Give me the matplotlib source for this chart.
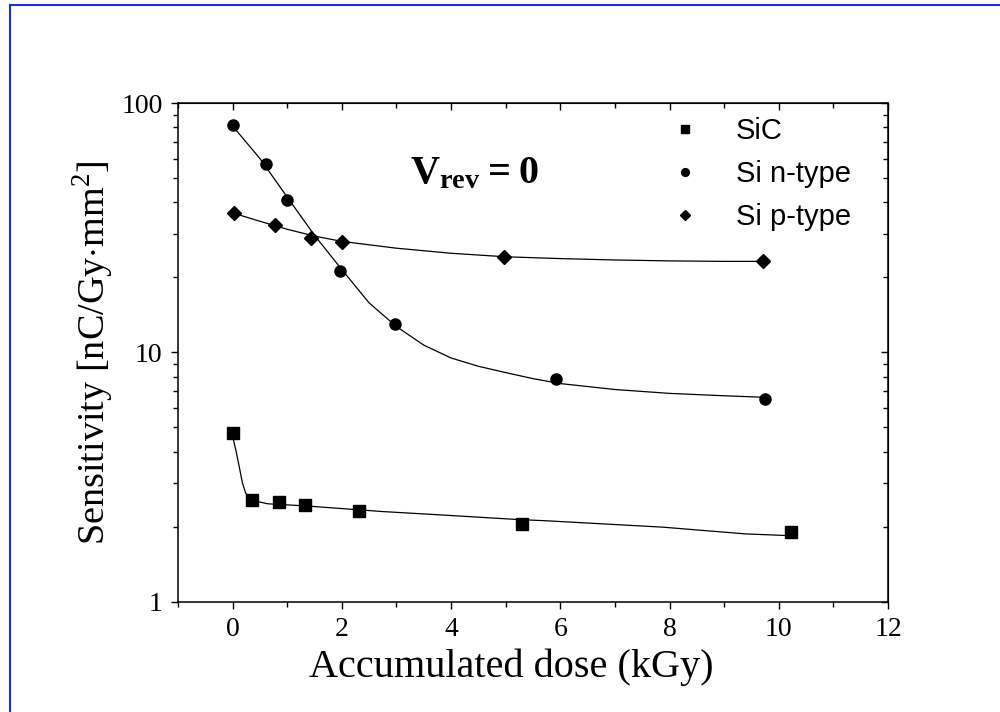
import matplotlib
matplotlib.use('Agg')
import matplotlib.pyplot as plt
from matplotlib.ticker import MultipleLocator, LogLocator, NullFormatter
from matplotlib.lines import Line2D

# measured points
sic_x = [0.0, 0.35, 0.85, 1.33, 2.32, 5.29, 10.22]
sic_y = [4.75, 2.56, 2.51, 2.45, 2.32, 2.05, 1.90]
ntype_x = [0.0, 0.61, 1.0, 1.97, 2.97, 5.93, 9.75]
ntype_y = [82.0, 57.3, 40.8, 21.3, 13.0, 7.8, 6.5]
ptype_x = [0.03, 0.78, 1.44, 2.0, 4.97, 9.72]
ptype_y = [36.3, 32.4, 28.8, 27.8, 24.2, 23.2]

# fit curves
sic_fit_x = [0.0, 0.06, 0.12, 0.18, 0.24, 0.33, 0.64, 1.36, 2.73, 3.94, 5.15,
             5.76, 7.88, 9.39, 10.2]
sic_fit_y = [4.6, 4.05, 3.49, 2.99, 2.72, 2.56, 2.47, 2.42, 2.30, 2.22, 2.14,
             2.11, 1.99, 1.87, 1.84]
ntype_fit_x = [0.0, 0.5, 1.0, 1.5, 2.0, 2.5, 3.0, 3.5, 4.0, 4.5, 5.0, 5.5,
               6.0, 7.0, 8.0, 9.0, 9.8]
ntype_fit_y = [81.0, 60.0, 42.0, 29.5, 21.5, 15.8, 12.7, 10.7, 9.5, 8.8, 8.3,
               7.85, 7.5, 7.1, 6.85, 6.7, 6.6]
ptype_fit_x = [0.0, 0.5, 1.0, 1.5, 2.0, 3.0, 4.0, 5.0, 6.0, 7.0, 8.0, 9.0, 9.8]
ptype_fit_y = [36.3, 33.6, 31.2, 29.3, 27.9, 26.2, 25.0, 24.2, 23.8, 23.5,
               23.3, 23.2, 23.2]

labels = ['SiC', 'Si n-type', 'Si p-type']

serif = 'Liberation Serif'
sans = 'Liberation Sans'
plt.rcParams['mathtext.fontset'] = 'custom'
plt.rcParams['mathtext.rm'] = serif
plt.rcParams['mathtext.bf'] = serif + ':bold'

fig = plt.figure(figsize=(10, 7.12), dpi=100)
ax = fig.add_axes([0.178, 0.155, 0.71, 0.70])

for fx, fy in [(sic_fit_x, sic_fit_y), (ntype_fit_x, ntype_fit_y),
               (ptype_fit_x, ptype_fit_y)]:
    ax.plot(fx, fy, color='black', lw=0.9, zorder=2)

ax.plot(sic_x, sic_y, 's', color='black', ms=8, ls='', label=labels[0],
        zorder=3)
ax.plot(ntype_x, ntype_y, 'o', color='black', ms=8, ls='', label=labels[1],
        zorder=3)
ax.plot(ptype_x, ptype_y, 'D', color='black', ms=7, ls='', label=labels[2],
        zorder=3)

ax.set_yscale('log')
ax.set_xlim(-1, 12)
ax.set_ylim(1, 100)
ax.xaxis.set_major_locator(MultipleLocator(2))
ax.xaxis.set_minor_locator(MultipleLocator(1))
ax.set_yticks([1, 10, 100], ['1', '10', '100'])
ax.yaxis.set_minor_locator(LogLocator(base=10, subs=range(2, 10)))
ax.yaxis.set_minor_formatter(NullFormatter())

ax.tick_params(which='major', direction='out', length=5, width=1,
               labelsize=20, pad=6)
ax.tick_params(which='minor', direction='out', length=3.5, width=1)
for lbl in ax.get_xticklabels() + ax.get_yticklabels():
    lbl.set_fontfamily(serif)
for sp in ax.spines.values():
    sp.set_linewidth(1.1)

# mirrored ticks pointing inwards on top and right
top = ax.secondary_xaxis('top')
top.xaxis.set_major_locator(MultipleLocator(2))
top.xaxis.set_minor_locator(MultipleLocator(1))
top.tick_params(which='major', direction='in', length=5, width=1,
                labeltop=False)
top.tick_params(which='minor', direction='in', length=3.5, width=1)
right = ax.secondary_yaxis('right')
right.yaxis.set_major_locator(LogLocator(base=10))
right.yaxis.set_minor_locator(LogLocator(base=10, subs=range(2, 10)))
right.tick_params(which='major', direction='in', length=5, width=1,
                  labelright=False)
right.tick_params(which='minor', direction='in', length=3.5, width=1,
                  labelright=False)

ax.set_xlabel('Accumulated dose (kGy)', fontfamily=serif, fontsize=29)
ax.xaxis.set_label_coords(0.470, -0.095)
ax.set_ylabel(r'Sensitivity [nC/Gy$\cdot$mm$^2$]', fontfamily=serif,
              fontsize=27.5)
ax.yaxis.set_label_coords(-0.088, 0.5)

ax.text(0.327, 0.84, r'$\mathbf{V_{rev}=0}$', transform=ax.transAxes,
        fontsize=29, va='baseline', ha='left')

leg = ax.legend(loc='upper right', bbox_to_anchor=(0.985, 1.025),
                frameon=False, prop={'family': sans, 'size': 21},
                markerscale=0.7, handlelength=1.5, handletextpad=1.0,
                labelspacing=0.52)

# blue frame on top and left of the picture
fig.add_artist(Line2D([10 / 1000, 1.0], [1 - 5 / 712, 1 - 5 / 712],
                      transform=fig.transFigure, color='#1a2fe0', lw=1.5))
fig.add_artist(Line2D([10 / 1000, 10 / 1000], [0.0, 1 - 5 / 712],
                      transform=fig.transFigure, color='#1a2fe0', lw=1.5))

fig.savefig('out.png', dpi=100)
